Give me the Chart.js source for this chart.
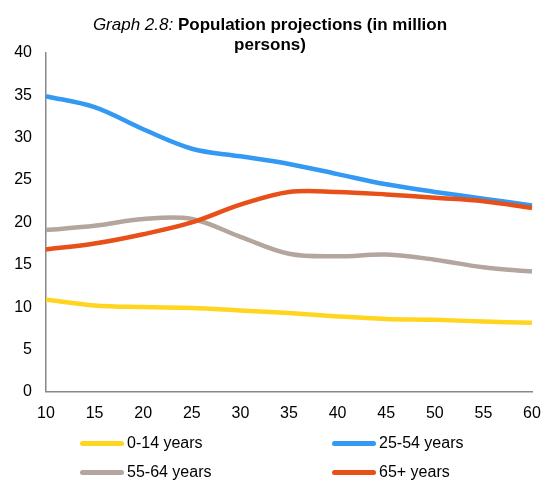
<!DOCTYPE html>
<html>
<head>
<meta charset="utf-8">
<script src="https://cdn.jsdelivr.net/npm/chart.js@4/dist/chart.umd.min.js"></script>
<style>
  html, body { margin: 0; padding: 0; background: #fff; }
  #wrap { position: relative; width: 545px; height: 481px; font-family: "Liberation Sans", Arial, sans-serif; }
  #title { position: absolute; left: 0; width: 540px; top: 15px; text-align: center; font-size: 17px; line-height: 20px; color: #000; }
  #title .it { font-style: italic; }
  #title .b { font-weight: bold; }
  #legend { position: absolute; left: 0; top: 0; width: 545px; height: 481px; pointer-events: none; }
  .li { position: absolute; display: flex; align-items: center; font-size: 16px; color: #000; white-space: nowrap; }
  .li .sw { width: 44px; height: 5px; border-radius: 2.5px; margin-right: 3px; }
</style>
</head>
<body>
<div id="wrap">
  <canvas id="c" width="545" height="481"></canvas>
  <div id="title"><span class="it">Graph 2.8:</span> <span class="b">Population projections (in million<br>persons)</span></div>
  <div id="legend"></div>
</div>
<script>
const categories = ["10","15","20","25","30","35","40","45","50","55","60"];
const seriesNames = ["0-14 years","25-54 years","55-64 years","65+ years"];
const age0to14  = [10.9, 10.2, 10.0, 9.9, 9.6, 9.3, 8.9, 8.6, 8.5, 8.3, 8.15];
const age25to54 = [34.9, 33.6, 31.0, 28.7, 27.8, 26.9, 25.7, 24.5, 23.6, 22.8, 22.0];
const age55to64 = [19.1, 19.6, 20.4, 20.4, 18.3, 16.3, 16.0, 16.2, 15.6, 14.7, 14.2];
const age65plus = [16.8, 17.5, 18.6, 20.0, 22.1, 23.6, 23.6, 23.3, 22.9, 22.5, 21.7];
const yTicks = [0, 5, 10, 15, 20, 25, 30, 35, 40];
const colors = ["#FFD520", "#3399F2", "#B4A69E", "#E8501A"];
const seriesValues = [age0to14, age25to54, age55to64, age65plus];

const datasets = seriesNames.map((n, i) => ({
  label: n,
  data: seriesValues[i],
  borderColor: colors[i],
  backgroundColor: colors[i],
  borderWidth: 4.5,
  pointRadius: 0,
  tension: 0.35,
  fill: false,
  order: [3, 4, 2, 1][i]
}));

const chart = new Chart(document.getElementById('c'), {
  type: 'line',
  data: { labels: categories, datasets },
  options: {
    responsive: false,
    animation: false,
    devicePixelRatio: 1,
    layout: { padding: { top: 53, left: 0, right: 13, bottom: 46 } },
    plugins: { legend: { display: false }, title: { display: false }, tooltip: { enabled: false } },
    scales: {
      x: {
        grid: { display: false, drawTicks: false },
        border: { display: true, color: "#888", width: 1.5 },
        ticks: { color: "#000", font: { family: "Liberation Sans", size: 16 }, padding: 12, maxRotation: 0, autoSkip: false },
        afterFit: (s) => { s.paddingRight = 0; s.paddingLeft = 0; }
      },
      y: {
        min: 0, max: 40,
        afterBuildTicks: (s) => { s.ticks = yTicks.map(v => ({ value: v })); },
        afterFit: (s) => { s.width = 46; },
        grid: { display: false, drawTicks: false },
        border: { display: true, color: "#888", width: 1.5 },
        ticks: { color: "#000", font: { family: "Liberation Sans", size: 16 }, padding: 14 }
      }
    }
  }
});

const legendEl = document.getElementById('legend');
const pos = [[80, 443], [332, 443], [80, 472], [332, 472]];
chart.data.datasets.forEach((ds, i) => {
  const d = document.createElement('div');
  d.className = 'li';
  d.style.left = pos[i][0] + 'px';
  d.style.top = (pos[i][1] - 10) + 'px';
  d.style.height = '20px';
  const sw = document.createElement('span');
  sw.className = 'sw';
  sw.style.background = ds.borderColor;
  const t = document.createElement('span');
  t.textContent = ds.label;
  d.appendChild(sw); d.appendChild(t);
  legendEl.appendChild(d);
});
</script>
</body>
</html>
